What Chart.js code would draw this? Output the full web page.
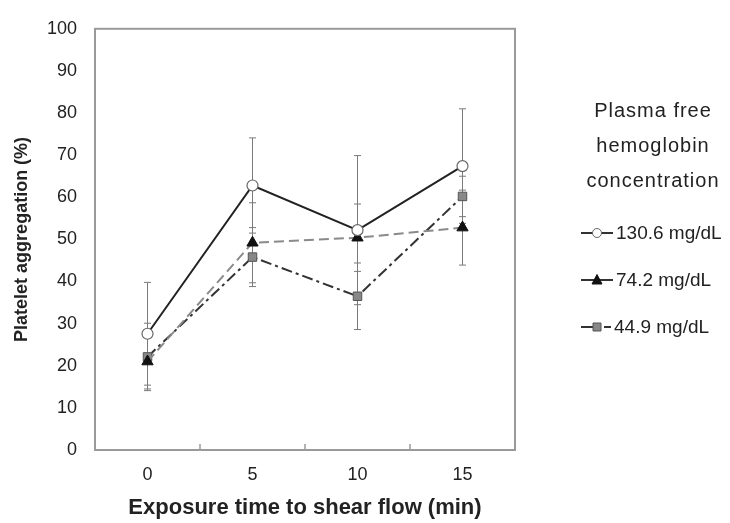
<!DOCTYPE html>
<html><head><meta charset="utf-8">
<script src="https://cdn.jsdelivr.net/npm/chart.js@4/dist/chart.umd.min.js"></script>
<style>html,body{margin:0;padding:0;background:#fff;} canvas{display:block;}</style>
</head><body>
<canvas id="c" width="730" height="523"></canvas>
<script>
// ---- data ----
const categories = ['0', '5', '10', '15'];
const seriesNames = ['130.6 mg/dL', '74.2 mg/dL', '44.9 mg/dL'];
const s130 = [27.6, 62.8, 52.2, 67.4];
const s130err = [12.2, 11.3, 17.7, 13.6];
const s74 = [21.0, 49.2, 50.4, 52.8];
const s74err = [6.5, 9.5, 8.0, 8.9];
const s45 = [22.1, 45.8, 36.5, 60.2];
const s45err = [8.0, 7.0, 7.9, 4.8];
const yMin = 0, yMax = 100, yStep = 10;
const legendTitle = ['Plasma free', 'hemoglobin', 'concentration'];
const xTitle = 'Exposure time to shear flow (min)';
const yTitle = 'Platelet aggregation (%)';

const FONT = "'Liberation Sans', Arial, sans-serif";
const TXT = '#222';

const errorBars = {
  id: 'errorBars',
  beforeDatasetsDraw(chart) {
    const ctx = chart.ctx, y = chart.scales.y;
    ctx.save();
    ctx.strokeStyle = '#7a7a7a';
    ctx.lineWidth = 1;
    chart.data.datasets.forEach((ds, di) => {
      const meta = chart.getDatasetMeta(di);
      ds.errors.forEach((e, i) => {
        const px = meta.data[i].x;
        const top = y.getPixelForValue(ds.data[i] + e);
        const bot = y.getPixelForValue(ds.data[i] - e);
        ctx.beginPath();
        ctx.moveTo(px, top); ctx.lineTo(px, bot);
        ctx.moveTo(px - 3.5, top); ctx.lineTo(px + 3.5, top);
        ctx.moveTo(px - 3.5, bot); ctx.lineTo(px + 3.5, bot);
        ctx.stroke();
      });
    });
    ctx.restore();
  }
};

const frame = {
  id: 'frame',
  beforeDatasetsDraw(chart) {
    const ctx = chart.ctx, a = chart.chartArea, x = chart.scales.x;
    ctx.save();
    ctx.strokeStyle = '#9a9a9a';
    ctx.lineWidth = 2;
    ctx.strokeRect(a.left, a.top, a.right - a.left, a.bottom - a.top);
    ctx.lineWidth = 1.5;
    ctx.beginPath();
    for (let i = 0; i < categories.length - 1; i++) {
      const bx = (x.getPixelForValue(i) + x.getPixelForValue(i + 1)) / 2;
      ctx.moveTo(bx, a.bottom); ctx.lineTo(bx, a.bottom - 6);
    }
    ctx.stroke();
    ctx.restore();
  }
};

const customLegend = {
  id: 'customLegend',
  afterDraw(chart) {
    const ctx = chart.ctx;
    ctx.save();
    ctx.fillStyle = TXT;
    ctx.font = '20px ' + FONT;
    ctx.textAlign = 'center';
    ctx.textBaseline = 'alphabetic';
    try { ctx.letterSpacing = '1px'; } catch (e) {}
    const tb = [117, 152, 187];
    legendTitle.forEach((t, i) => ctx.fillText(t, 653, tb[i]));
    try { ctx.letterSpacing = '0px'; } catch (e) {}
    const ys = [233, 280, 327];
    ctx.font = '19px ' + FONT;
    ctx.textAlign = 'left';
    ctx.textBaseline = 'middle';
    chart.data.datasets.forEach((ds, i) => {
      const yy = ys[i];
      ctx.strokeStyle = '#333';
      ctx.lineWidth = 2;
      ctx.beginPath();
      if (i === 2) {
        ctx.moveTo(581, yy); ctx.lineTo(593, yy);
        ctx.moveTo(604, yy); ctx.lineTo(611, yy);
      } else {
        ctx.moveTo(581, yy); ctx.lineTo(613, yy);
      }
      ctx.stroke();
      ctx.fillStyle = ds.pointBackgroundColor;
      ctx.strokeStyle = ds.pointBorderColor;
      ctx.lineWidth = 1;
      ctx.beginPath();
      if (ds.pointStyle === 'circle') { ctx.arc(597, yy, 4.5, 0, Math.PI * 2); }
      else if (ds.pointStyle === 'triangle') { ctx.moveTo(597, yy - 5.5); ctx.lineTo(602, yy + 4); ctx.lineTo(592, yy + 4); ctx.closePath(); }
      else { ctx.rect(593, yy - 4, 8, 8); }
      ctx.fill(); ctx.stroke();
      ctx.fillStyle = TXT;
      ctx.fillText(ds.label, i === 2 ? 614 : 616, yy + 1);
    });
    ctx.restore();
  }
};

new Chart(document.getElementById('c'), {
  type: 'line',
  data: {
    labels: categories,
    datasets: [
      { label: seriesNames[0], data: s130, errors: s130err,
        borderColor: '#222', borderWidth: 2, tension: 0,
        pointStyle: 'circle', pointRadius: 5.5, pointBorderWidth: 1.2,
        pointBackgroundColor: '#fff', pointBorderColor: '#666' },
      { label: seriesNames[1], data: s74, errors: s74err,
        borderColor: '#8a8a8a', borderWidth: 2, borderDash: [10, 5], tension: 0,
        pointStyle: 'triangle', pointRadius: 6.5, pointBorderWidth: 1,
        pointBackgroundColor: '#111', pointBorderColor: '#111' },
      { label: seriesNames[2], data: s45, errors: s45err,
        borderColor: '#333', borderWidth: 2, borderDash: [11, 4, 3, 4], tension: 0,
        pointStyle: 'rect', pointRadius: 6, pointBorderWidth: 1,
        pointBackgroundColor: '#888', pointBorderColor: '#555' }
    ]
  },
  options: {
    responsive: false,
    animation: false,
    layout: { padding: { top: 21, right: 215, left: 0, bottom: 0 } },
    plugins: { legend: { display: false }, tooltip: { enabled: false } },
    scales: {
      x: {
        type: 'category',
        offset: true,
        grid: { display: false, drawTicks: false },
        border: { display: false },
        ticks: { color: TXT, font: { family: FONT, size: 18 }, padding: 14 },
        title: { display: true, text: xTitle, color: TXT,
                 font: { family: FONT, size: 22, weight: 'bold' }, padding: { top: 0, bottom: 2 } },
        afterFit(s) { s.height = 73; }
      },
      y: {
        min: yMin, max: yMax,
        grid: { display: false, drawTicks: false },
        border: { display: false },
        ticks: { stepSize: yStep, color: TXT, font: { family: FONT, size: 18 }, padding: 18 },
        title: { display: true, text: yTitle, color: TXT,
                 font: { family: FONT, size: 18, weight: 'bold' }, padding: { top: 11, bottom: 0 } },
        afterFit(s) { s.width = 95; }
      }
    }
  },
  plugins: [frame, errorBars, customLegend]
});
</script>
</body></html>
